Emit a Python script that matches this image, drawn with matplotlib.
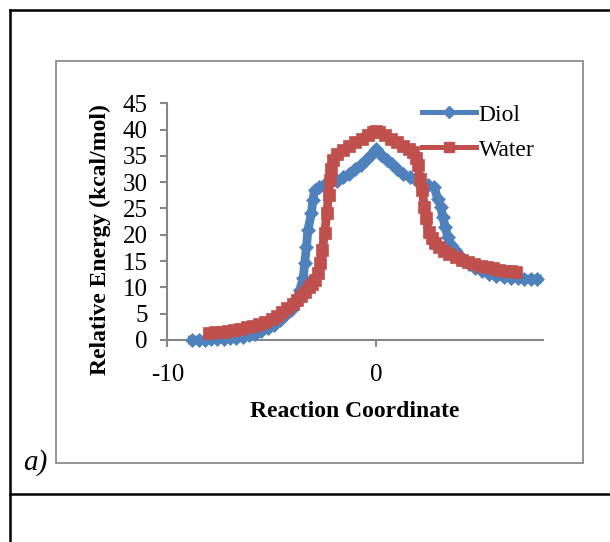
"""Relative energy profile along the reaction coordinate (Diol vs Water), panel a)."""
import numpy as np
import matplotlib
matplotlib.use("Agg")
import matplotlib.pyplot as plt
from matplotlib.lines import Line2D
from matplotlib.patches import Rectangle

# ─────────────────────────────────────────────────────────────────────────────
# Data
# ─────────────────────────────────────────────────────────────────────────────
diol_x = [-8.80, -8.50, -8.20, -7.90, -7.60, -7.30, -7.00, -6.70, -6.40, -6.10,
          -5.80, -5.50, -5.20, -4.90, -4.60, -4.35, -4.10, -3.90, -3.78,
          -3.66, -3.50, -3.42, -3.34, -3.27, -3.10, -3.03, -2.95,
          -2.75, -2.50, -2.20, -1.90, -1.60, -1.30, -1.00, -0.75, -0.50, -0.25,
          0.00, 0.25, 0.50, 0.75, 1.00, 1.30, 1.60, 1.90, 2.20, 2.50, 2.78,
          2.94, 3.10, 3.18, 3.31, 3.42, 3.58,
          3.75, 3.95, 4.20, 4.45, 4.75, 5.05, 5.40, 5.75, 6.10, 6.45, 6.80,
          7.10, 7.40, 7.72]
diol_y = [0.0, 0.0, 0.0, 0.1, 0.1, 0.2, 0.3, 0.4, 0.6, 0.9,
          1.2, 1.7, 2.2, 2.9, 3.8, 4.7, 5.7, 6.9, 8.0,
          9.5, 11.7, 14.6, 17.7, 20.9, 24.1, 26.6, 28.5,
          29.0, 29.4, 29.8, 30.3, 30.9, 31.6, 32.5, 33.3, 34.2, 35.2,
          36.3, 35.2, 34.3, 33.4, 32.5, 31.6, 30.9, 30.4, 29.9, 29.5, 29.0,
          26.9, 25.3, 23.4, 21.5, 19.6, 18.1,
          17.1, 16.1, 15.1, 14.4, 13.7, 13.1, 12.6, 12.2, 12.0, 11.8, 11.7,
          11.6, 11.6, 11.6]

water_x = [-8.00, -7.70, -7.40, -7.10, -6.80, -6.50, -6.20, -5.90, -5.60, -5.30,
           -5.00, -4.75, -4.50, -4.25, -4.00, -3.80, -3.60, -3.40, -3.20, -3.05,
           -2.92, -2.79, -2.67, -2.58, -2.47, -2.36, -2.28, -2.23, -2.15, -2.07,
           -1.90, -1.60, -1.30, -1.00, -0.70, -0.40, -0.15, 0.00, 0.15, 0.40,
           0.70, 1.00, 1.30, 1.55, 1.75, 1.90,
           1.99, 2.10, 2.20, 2.31, 2.39, 2.51, 2.65, 2.80,
           3.00, 3.25, 3.50, 3.80, 4.10, 4.40, 4.70, 5.00, 5.30, 5.60, 5.90,
           6.20, 6.45, 6.69]
water_y = [1.4, 1.5, 1.6, 1.7, 1.9, 2.1, 2.4, 2.7, 3.0, 3.5,
           4.0, 4.6, 5.3, 6.0, 6.8, 7.6, 8.4, 9.2, 10.0, 10.6,
           11.5, 12.7, 14.6, 17.1, 20.3, 24.1, 27.6, 30.4, 32.6, 34.2,
           35.3, 36.2, 36.9, 37.6, 38.3, 39.0, 39.5, 39.8, 39.5, 39.0,
           38.3, 37.6, 36.9, 36.3, 35.7, 34.6,
           33.3, 30.7, 28.5, 25.3, 23.1, 20.6, 19.3, 18.4,
           17.6, 16.9, 16.3, 15.7, 15.2, 14.8, 14.4, 14.1, 13.8, 13.6, 13.4,
           13.2, 13.1, 13.0]

x_ticks = [-10, 0]
y_ticks = [0, 5, 10, 15, 20, 25, 30, 35, 40, 45]

_C = dict(
    blue="#4F81BD",
    red="#C0504D",
    axis="#868686",
    box="#8C8C8C",
    text="black",
)

# ─────────────────────────────────────────────────────────────────────────────
# Figure
# ─────────────────────────────────────────────────────────────────────────────
plt.rcParams["font.family"] = "serif"
plt.rcParams["font.serif"] = ["Liberation Serif", "DejaVu Serif"]
plt.rcParams["axes.unicode_minus"] = False

W, H = 610, 542
fig = plt.figure(figsize=(W / 100, H / 100), dpi=100, facecolor="white")


def fx(px):
    return px / W


def fy(py):
    return 1 - py / H


ax = fig.add_axes([fx(167.3), fy(340), (543.3 - 167.3) / W, (340 - 103.3) / H])
ax.set_facecolor("none")

# dense markers + heavy line give the thick Excel-style band
ax.plot(diol_x, diol_y, color=_C["blue"], lw=6.3, marker="D", ms=7.4,
        mec=_C["blue"], mew=0.5, clip_on=False, zorder=3)
ax.plot(water_x, water_y, color=_C["red"], lw=6.3, marker="s", ms=8.6,
        mec=_C["red"], mew=0.5, clip_on=False, zorder=4)

ax.set_xlim(-10, 8)
ax.set_ylim(0, 45)
ax.set_xticks(x_ticks)
ax.set_yticks(y_ticks)
ax.spines[["top", "right"]].set_visible(False)
for s in ("left", "bottom"):
    ax.spines[s].set_color(_C["axis"])
    ax.spines[s].set_linewidth(1.5)
ax.tick_params(axis="both", direction="out", color=_C["axis"], width=1.5,
               length=5, labelsize=18, labelcolor=_C["text"])
ax.tick_params(axis="y", pad=9)
ax.tick_params(axis="x", pad=12)

handles = [
    Line2D([], [], color=_C["blue"], lw=3.6, marker="D", ms=6.2, label="Diol"),
    Line2D([], [], color=_C["red"], lw=3.6, marker="s", ms=7.0, label="Water"),
]
ax.legend(handles=handles, loc="upper left", bbox_to_anchor=(fx(422), fy(104)),
          bbox_transform=fig.transFigure, frameon=False, fontsize=17,
          handlelength=2.3, handletextpad=0.1, labelspacing=0.57,
          borderpad=0, borderaxespad=0, numpoints=1)

# axis titles
fig.text(fx(100), fy(240), "Relative Energy (kcal/mol)", rotation=90,
         ha="center", va="center", fontsize=17, fontweight="bold")
fig.text(fx(355), fy(417), "Reaction Coordinate", ha="center", va="baseline",
         fontsize=17, fontweight="bold")

# chart area box
fig.add_artist(Rectangle((fx(55.5), fy(463.3)), (583.3 - 55.5) / W,
                         (463.3 - 60.7) / H, transform=fig.transFigure,
                         fill=False, ec=_C["box"], lw=1.3))

# surrounding table lines
for xs, ys in [([fx(10), fx(10)], [fy(10), 0]),
               ([fx(10), 1], [fy(10), fy(10)]),
               ([fx(10), 1], [fy(494), fy(494)])]:
    fig.add_artist(Line2D(xs, ys, transform=fig.transFigure, color="black", lw=1.8))

fig.text(fx(35), fy(463), "a)", ha="center", va="center", fontsize=21,
         style="italic")

fig.savefig("out.png", dpi=100, facecolor="white")
